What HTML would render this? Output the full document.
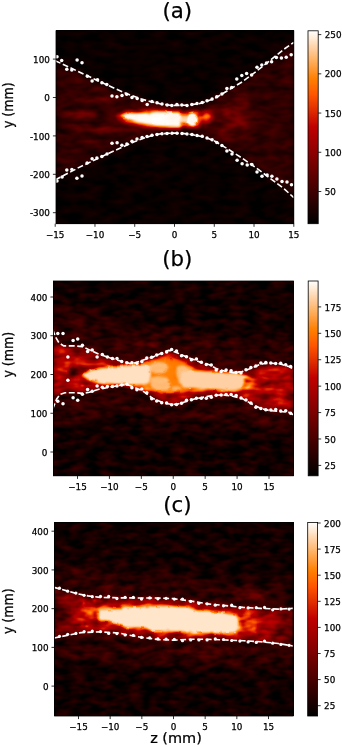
<!DOCTYPE html>
<html lang="en"><head><meta charset="utf-8"><title>Figure</title>
<style>html,body{margin:0;padding:0;background:#fff}svg{display:block}text{font-family:"DejaVu Sans", "Liberation Sans", sans-serif;fill:#000;stroke:#000;stroke-width:0.25px}</style>
</head><body>
<svg width="342" height="747" viewBox="0 0 342 747">
<defs>
<radialGradient id="g" cx="0.5" cy="0.5" r="0.5"><stop offset="0.000" stop-color="#fff" stop-opacity="1.000"/><stop offset="0.083" stop-color="#fff" stop-opacity="0.979"/><stop offset="0.167" stop-color="#fff" stop-opacity="0.920"/><stop offset="0.250" stop-color="#fff" stop-opacity="0.828"/><stop offset="0.333" stop-color="#fff" stop-opacity="0.713"/><stop offset="0.417" stop-color="#fff" stop-opacity="0.587"/><stop offset="0.500" stop-color="#fff" stop-opacity="0.461"/><stop offset="0.583" stop-color="#fff" stop-opacity="0.343"/><stop offset="0.667" stop-color="#fff" stop-opacity="0.239"/><stop offset="0.750" stop-color="#fff" stop-opacity="0.153"/><stop offset="0.833" stop-color="#fff" stop-opacity="0.086"/><stop offset="0.917" stop-color="#fff" stop-opacity="0.036"/><stop offset="1.000" stop-color="#fff" stop-opacity="0.000"/></radialGradient>
<radialGradient id="f" cx="0.5" cy="0.5" r="0.5"><stop offset="0" stop-color="#fff" stop-opacity="1"/><stop offset="0.550" stop-color="#fff" stop-opacity="1"/><stop offset="0.606" stop-color="#fff" stop-opacity="0.962"/><stop offset="0.663" stop-color="#fff" stop-opacity="0.854"/><stop offset="0.719" stop-color="#fff" stop-opacity="0.691"/><stop offset="0.775" stop-color="#fff" stop-opacity="0.500"/><stop offset="0.831" stop-color="#fff" stop-opacity="0.309"/><stop offset="0.887" stop-color="#fff" stop-opacity="0.146"/><stop offset="0.944" stop-color="#fff" stop-opacity="0.038"/><stop offset="1.000" stop-color="#fff" stop-opacity="0.000"/></radialGradient>
<radialGradient id="k" cx="0.5" cy="0.5" r="0.5"><stop offset="0" stop-color="#000" stop-opacity="1"/><stop offset="0.4" stop-color="#000" stop-opacity="0.7"/><stop offset="1" stop-color="#000" stop-opacity="0"/></radialGradient>
<linearGradient id="cbg" x1="0" y1="1" x2="0" y2="0"><stop offset="0" stop-color="#000"/><stop offset="1" stop-color="#fff"/></linearGradient>
<filter id="hota" filterUnits="userSpaceOnUse" x="56.00" y="30.80" width="237.80" height="192.90" color-interpolation-filters="sRGB">
<feComponentTransfer><feFuncR type="table" tableValues="0.0000 0.0625 0.1250 0.1875 0.2500 0.3125 0.3750 0.4375 0.5000 0.5625 0.6250 0.6875 0.7500 0.8125 0.8750 0.9375 1.0000 1.0000 1.0000 1.0000 1.0000 1.0000 1.0000 1.0000 1.0000"/><feFuncG type="table" tableValues="0.0000 0.0000 0.0000 0.0000 0.0000 0.0000 0.0000 0.0000 0.0000 0.0000 0.0000 0.0000 0.0000 0.0833 0.1667 0.2500 0.3333 0.4167 0.5000 0.5833 0.6667 0.7500 0.8333 0.9167 1.0000"/><feFuncB type="table" tableValues="0.0000 0.0000 0.0000 0.0000 0.0000 0.0000 0.0000 0.0000 0.0000 0.0000 0.0000 0.0000 0.0000 0.0000 0.0000 0.0000 0.0000 0.0000 0.0000 0.1667 0.3333 0.5000 0.6667 0.8333 1.0000"/></feComponentTransfer></filter>
<filter id="nza" filterUnits="userSpaceOnUse" x="56.00" y="30.80" width="237.80" height="192.90" color-interpolation-filters="sRGB">
<feTurbulence type="fractalNoise" baseFrequency="0.06 0.14" numOctaves="2" seed="2" result="t"/>
<feColorMatrix in="t" type="matrix" values="1 0 0 0 0 1 0 0 0 0 1 0 0 0 0 0 0 0 0 1" result="n"/>
<feComposite in="SourceGraphic" in2="n" operator="arithmetic" k1="0.900" k2="0.550" k3="0.100" k4="-0.050"/></filter>
<filter id="raga" filterUnits="userSpaceOnUse" x="56.00" y="30.80" width="237.80" height="192.90" color-interpolation-filters="sRGB">
<feTurbulence type="fractalNoise" baseFrequency="0.16 0.2" numOctaves="1" seed="7" result="t"/>
<feDisplacementMap in="SourceGraphic" in2="t" scale="3" xChannelSelector="R" yChannelSelector="G"/></filter>
<filter id="hotca" filterUnits="userSpaceOnUse" x="308.00" y="30.80" width="10.20" height="192.90" color-interpolation-filters="sRGB">
<feComponentTransfer><feFuncR type="table" tableValues="0.0000 0.0625 0.1250 0.1875 0.2500 0.3125 0.3750 0.4375 0.5000 0.5625 0.6250 0.6875 0.7500 0.8125 0.8750 0.9375 1.0000 1.0000 1.0000 1.0000 1.0000 1.0000 1.0000 1.0000 1.0000"/><feFuncG type="table" tableValues="0.0000 0.0000 0.0000 0.0000 0.0000 0.0000 0.0000 0.0000 0.0000 0.0000 0.0000 0.0000 0.0000 0.0833 0.1667 0.2500 0.3333 0.4167 0.5000 0.5833 0.6667 0.7500 0.8333 0.9167 1.0000"/><feFuncB type="table" tableValues="0.0000 0.0000 0.0000 0.0000 0.0000 0.0000 0.0000 0.0000 0.0000 0.0000 0.0000 0.0000 0.0000 0.0000 0.0000 0.0000 0.0000 0.0000 0.0000 0.1667 0.3333 0.5000 0.6667 0.8333 1.0000"/></feComponentTransfer></filter>
<filter id="hotb" filterUnits="userSpaceOnUse" x="53.50" y="281.00" width="240.00" height="194.80" color-interpolation-filters="sRGB">
<feComponentTransfer><feFuncR type="table" tableValues="0.0000 0.0625 0.1250 0.1875 0.2500 0.3125 0.3750 0.4375 0.5000 0.5625 0.6250 0.6875 0.7500 0.8125 0.8750 0.9375 1.0000 1.0000 1.0000 1.0000 1.0000 1.0000 1.0000 1.0000 1.0000"/><feFuncG type="table" tableValues="0.0000 0.0000 0.0000 0.0000 0.0000 0.0000 0.0000 0.0000 0.0000 0.0000 0.0000 0.0000 0.0000 0.0833 0.1667 0.2500 0.3333 0.4167 0.5000 0.5833 0.6667 0.7500 0.8333 0.9167 1.0000"/><feFuncB type="table" tableValues="0.0000 0.0000 0.0000 0.0000 0.0000 0.0000 0.0000 0.0000 0.0000 0.0000 0.0000 0.0000 0.0000 0.0000 0.0000 0.0000 0.0000 0.0000 0.0000 0.1667 0.3333 0.5000 0.6667 0.8333 1.0000"/></feComponentTransfer></filter>
<filter id="nzb" filterUnits="userSpaceOnUse" x="53.50" y="281.00" width="240.00" height="194.80" color-interpolation-filters="sRGB">
<feTurbulence type="fractalNoise" baseFrequency="0.07 0.15" numOctaves="2" seed="5" result="t"/>
<feColorMatrix in="t" type="matrix" values="1 0 0 0 0 1 0 0 0 0 1 0 0 0 0 0 0 0 0 1" result="n"/>
<feComposite in="SourceGraphic" in2="n" operator="arithmetic" k1="0.800" k2="0.600" k3="0.220" k4="-0.115"/></filter>
<filter id="ragb" filterUnits="userSpaceOnUse" x="53.50" y="281.00" width="240.00" height="194.80" color-interpolation-filters="sRGB">
<feTurbulence type="fractalNoise" baseFrequency="0.16 0.2" numOctaves="1" seed="7" result="t"/>
<feDisplacementMap in="SourceGraphic" in2="t" scale="3" xChannelSelector="R" yChannelSelector="G"/></filter>
<filter id="hotcb" filterUnits="userSpaceOnUse" x="308.20" y="281.00" width="9.90" height="194.80" color-interpolation-filters="sRGB">
<feComponentTransfer><feFuncR type="table" tableValues="0.0000 0.0625 0.1250 0.1875 0.2500 0.3125 0.3750 0.4375 0.5000 0.5625 0.6250 0.6875 0.7500 0.8125 0.8750 0.9375 1.0000 1.0000 1.0000 1.0000 1.0000 1.0000 1.0000 1.0000 1.0000"/><feFuncG type="table" tableValues="0.0000 0.0000 0.0000 0.0000 0.0000 0.0000 0.0000 0.0000 0.0000 0.0000 0.0000 0.0000 0.0000 0.0833 0.1667 0.2500 0.3333 0.4167 0.5000 0.5833 0.6667 0.7500 0.8333 0.9167 1.0000"/><feFuncB type="table" tableValues="0.0000 0.0000 0.0000 0.0000 0.0000 0.0000 0.0000 0.0000 0.0000 0.0000 0.0000 0.0000 0.0000 0.0000 0.0000 0.0000 0.0000 0.0000 0.0000 0.1667 0.3333 0.5000 0.6667 0.8333 1.0000"/></feComponentTransfer></filter>
<filter id="hotc" filterUnits="userSpaceOnUse" x="54.60" y="522.50" width="238.50" height="193.50" color-interpolation-filters="sRGB">
<feComponentTransfer><feFuncR type="table" tableValues="0.0000 0.0625 0.1250 0.1875 0.2500 0.3125 0.3750 0.4375 0.5000 0.5625 0.6250 0.6875 0.7500 0.8125 0.8750 0.9375 1.0000 1.0000 1.0000 1.0000 1.0000 1.0000 1.0000 1.0000 1.0000"/><feFuncG type="table" tableValues="0.0000 0.0000 0.0000 0.0000 0.0000 0.0000 0.0000 0.0000 0.0000 0.0000 0.0000 0.0000 0.0000 0.0833 0.1667 0.2500 0.3333 0.4167 0.5000 0.5833 0.6667 0.7500 0.8333 0.9167 1.0000"/><feFuncB type="table" tableValues="0.0000 0.0000 0.0000 0.0000 0.0000 0.0000 0.0000 0.0000 0.0000 0.0000 0.0000 0.0000 0.0000 0.0000 0.0000 0.0000 0.0000 0.0000 0.0000 0.1667 0.3333 0.5000 0.6667 0.8333 1.0000"/></feComponentTransfer></filter>
<filter id="nzc" filterUnits="userSpaceOnUse" x="54.60" y="522.50" width="238.50" height="193.50" color-interpolation-filters="sRGB">
<feTurbulence type="fractalNoise" baseFrequency="0.07 0.15" numOctaves="2" seed="9" result="t"/>
<feColorMatrix in="t" type="matrix" values="1 0 0 0 0 1 0 0 0 0 1 0 0 0 0 0 0 0 0 1" result="n"/>
<feComposite in="SourceGraphic" in2="n" operator="arithmetic" k1="0.800" k2="0.600" k3="0.220" k4="-0.115"/></filter>
<filter id="ragc" filterUnits="userSpaceOnUse" x="54.60" y="522.50" width="238.50" height="193.50" color-interpolation-filters="sRGB">
<feTurbulence type="fractalNoise" baseFrequency="0.16 0.2" numOctaves="1" seed="7" result="t"/>
<feDisplacementMap in="SourceGraphic" in2="t" scale="3" xChannelSelector="R" yChannelSelector="G"/></filter>
<filter id="hotcc" filterUnits="userSpaceOnUse" x="307.70" y="522.50" width="9.90" height="193.50" color-interpolation-filters="sRGB">
<feComponentTransfer><feFuncR type="table" tableValues="0.0000 0.0625 0.1250 0.1875 0.2500 0.3125 0.3750 0.4375 0.5000 0.5625 0.6250 0.6875 0.7500 0.8125 0.8750 0.9375 1.0000 1.0000 1.0000 1.0000 1.0000 1.0000 1.0000 1.0000 1.0000"/><feFuncG type="table" tableValues="0.0000 0.0000 0.0000 0.0000 0.0000 0.0000 0.0000 0.0000 0.0000 0.0000 0.0000 0.0000 0.0000 0.0833 0.1667 0.2500 0.3333 0.4167 0.5000 0.5833 0.6667 0.7500 0.8333 0.9167 1.0000"/><feFuncB type="table" tableValues="0.0000 0.0000 0.0000 0.0000 0.0000 0.0000 0.0000 0.0000 0.0000 0.0000 0.0000 0.0000 0.0000 0.0000 0.0000 0.0000 0.0000 0.0000 0.0000 0.1667 0.3333 0.5000 0.6667 0.8333 1.0000"/></feComponentTransfer></filter>
<filter id="bl0_8" x="-30%" y="-30%" width="160%" height="160%" color-interpolation-filters="sRGB"><feGaussianBlur stdDeviation="0.8"/></filter><filter id="bl0_9" x="-30%" y="-30%" width="160%" height="160%" color-interpolation-filters="sRGB"><feGaussianBlur stdDeviation="0.9"/></filter><filter id="bl1_0" x="-30%" y="-30%" width="160%" height="160%" color-interpolation-filters="sRGB"><feGaussianBlur stdDeviation="1.0"/></filter><filter id="bl1_1" x="-30%" y="-30%" width="160%" height="160%" color-interpolation-filters="sRGB"><feGaussianBlur stdDeviation="1.1"/></filter><filter id="bl1_2" x="-30%" y="-30%" width="160%" height="160%" color-interpolation-filters="sRGB"><feGaussianBlur stdDeviation="1.2"/></filter><filter id="bl1_5" x="-30%" y="-30%" width="160%" height="160%" color-interpolation-filters="sRGB"><feGaussianBlur stdDeviation="1.5"/></filter><filter id="bl1_8" x="-30%" y="-30%" width="160%" height="160%" color-interpolation-filters="sRGB"><feGaussianBlur stdDeviation="1.8"/></filter><filter id="bl2_0" x="-30%" y="-30%" width="160%" height="160%" color-interpolation-filters="sRGB"><feGaussianBlur stdDeviation="2.0"/></filter><filter id="bl2_5" x="-30%" y="-30%" width="160%" height="160%" color-interpolation-filters="sRGB"><feGaussianBlur stdDeviation="2.5"/></filter><filter id="bl3" x="-30%" y="-30%" width="160%" height="160%" color-interpolation-filters="sRGB"><feGaussianBlur stdDeviation="3"/></filter><filter id="bl3_5" x="-30%" y="-30%" width="160%" height="160%" color-interpolation-filters="sRGB"><feGaussianBlur stdDeviation="3.5"/></filter><filter id="bl6" x="-30%" y="-30%" width="160%" height="160%" color-interpolation-filters="sRGB"><feGaussianBlur stdDeviation="6"/></filter>
</defs>
<rect width="342" height="747" fill="#fff"/>
<g filter="url(#hota)">
<g filter="url(#nza)">
<rect x="51.00" y="25.80" width="247.80" height="202.90" fill="#000"/>
<rect x="51.00" y="25.80" width="247.80" height="202.90" fill="#fff" fill-opacity="0.025"/>
<path d="M55.1 60.6 L70.0 67.6 L85.0 74.7 L100.0 81.7 L115.0 88.6 L128.4 94.3 L140.0 98.6 L150.0 101.5 L160.0 103.8 L170.0 105.2 L176.0 105.5 L185.0 105.2 L193.0 104.4 L200.0 103.5 L214.0 98.8 L228.0 90.4 L242.1 81.9 L256.1 71.5 L270.2 60.3 L284.2 49.1 L293.8 42.3 L293.8 197.6 L284.2 188.9 L270.2 178.3 L256.1 167.9 L242.1 158.1 L228.1 149.1 L214.0 140.7 L204.0 137.0 L196.1 135.3 L189.0 134.1 L182.1 133.4 L175.0 133.1 L168.1 133.3 L161.0 133.8 L154.0 134.9 L145.4 137.6 L134.2 141.8 L106.1 154.5 L78.1 167.9 L55.1 180.0Z" fill="#fff" fill-opacity="0.100" filter="url(#bl3)"/>
<ellipse cx="77.0" cy="115.5" rx="24.0" ry="6.5" fill="url(#g)" fill-opacity="0.280"/>
<ellipse cx="100.0" cy="116.0" rx="46.0" ry="9.0" fill="url(#g)" fill-opacity="0.050"/>
<ellipse cx="100.0" cy="100.5" rx="44.0" ry="5.5" fill="url(#g)" fill-opacity="0.140"/>
<ellipse cx="100.0" cy="129.0" rx="44.0" ry="5.5" fill="url(#g)" fill-opacity="0.140"/>
<ellipse cx="88.0" cy="141.0" rx="28.0" ry="5.0" fill="url(#g)" fill-opacity="0.070"/>
<ellipse cx="88.0" cy="89.0" rx="24.0" ry="5.0" fill="url(#g)" fill-opacity="0.060"/>
<ellipse cx="101.0" cy="116.0" rx="7.0" ry="7.0" fill="url(#k)" fill-opacity="0.500"/>
<ellipse cx="85.0" cy="108.0" rx="30.0" ry="2.5" fill="url(#k)" fill-opacity="0.350"/>
<ellipse cx="85.0" cy="122.5" rx="30.0" ry="2.5" fill="url(#k)" fill-opacity="0.350"/>
<ellipse cx="156.0" cy="118.5" rx="56.0" ry="20.0" fill="url(#g)" fill-opacity="0.260"/>
<ellipse cx="150.0" cy="118.5" rx="42.0" ry="13.0" fill="url(#g)" fill-opacity="0.300"/>
<ellipse cx="232.0" cy="118.0" rx="36.0" ry="32.0" fill="url(#g)" fill-opacity="0.160"/>
<ellipse cx="227.0" cy="112.0" rx="7.0" ry="6.0" fill="url(#g)" fill-opacity="0.120"/>
<ellipse cx="246.0" cy="102.0" rx="7.0" ry="6.0" fill="url(#g)" fill-opacity="0.080"/>
<ellipse cx="245.0" cy="125.0" rx="8.0" ry="7.0" fill="url(#g)" fill-opacity="0.080"/>
<ellipse cx="222.0" cy="131.0" rx="8.0" ry="6.0" fill="url(#g)" fill-opacity="0.080"/>
<ellipse cx="207.5" cy="116.0" rx="9.5" ry="8.5" fill="url(#g)" fill-opacity="0.580"/>
<ellipse cx="204.0" cy="119.0" rx="11.0" ry="11.0" fill="url(#g)" fill-opacity="0.300"/>
<path d="M116.0 116.0 L124.0 111.2 L147.0 110.6 L152.0 109.6 L179.0 109.4 L183.0 112.5 L187.0 111.0 L197.0 111.0 L200.5 113.5 L202.0 119.0 L199.5 127.0 L196.0 128.8 L188.0 128.8 L184.0 125.5 L180.0 128.8 L161.0 128.8 L143.0 126.3 L128.0 122.8 L119.0 119.8Z" fill="#fff" fill-opacity="0.500" filter="url(#bl1_8)"/>
</g>
<g filter="url(#raga)">
<path d="M121.0 115.7 L126.0 113.4 L147.0 113.0 L149.0 114.2 L151.0 112.2 L178.0 111.9 L180.3 113.0 L180.8 119.0 L180.3 126.2 L162.0 126.3 L144.0 123.7 L130.0 120.0 L123.0 118.0Z" fill="#fff" fill-opacity="0.970" filter="url(#bl0_8)"/>
<path d="M179.0 115.3 L188.0 115.3 L188.0 122.8 L179.0 122.8Z" fill="#fff" fill-opacity="0.780" filter="url(#bl1_0)"/>
<ellipse cx="192.3" cy="119.6" rx="7.2" ry="8.2" fill="url(#f)" fill-opacity="0.970"/>
</g></g>
<svg x="56.00" y="30.80" width="237.80" height="192.90" viewBox="56.00 30.80 237.80 192.90">
<path d="M55.1 60.6 L70.0 67.6 L85.0 74.7 L100.0 81.7 L115.0 88.6 L128.4 94.3 L140.0 98.6 L150.0 101.5 L160.0 103.8 L170.0 105.2 L176.0 105.5 L185.0 105.2 L193.0 104.4 L200.0 103.5 L214.0 98.8 L228.0 90.4 L242.1 81.9 L256.1 71.5 L270.2 60.3 L284.2 49.1 L293.8 42.3" fill="none" stroke="#fff" stroke-width="1.6" stroke-dasharray="5.9 2.6"/>
<path d="M55.1 180.0 L78.1 167.9 L106.1 154.5 L134.2 141.8 L145.4 137.6 L154.0 134.9 L161.0 133.8 L168.1 133.3 L175.0 133.1 L182.1 133.4 L189.0 134.1 L196.1 135.3 L204.0 137.0 L214.0 140.7 L228.1 149.1 L242.1 158.1 L256.1 167.9 L270.2 178.3 L284.2 188.9 L293.8 197.6" fill="none" stroke="#fff" stroke-width="1.6" stroke-dasharray="5.9 2.6"/>
<g fill="#fff">
<circle cx="57.0" cy="56.8" r="1.75"/>
<circle cx="61.7" cy="60.6" r="1.75"/>
<circle cx="66.8" cy="69.2" r="1.75"/>
<circle cx="71.8" cy="69.9" r="1.75"/>
<circle cx="77.1" cy="60.1" r="1.75"/>
<circle cx="82.0" cy="62.7" r="1.75"/>
<circle cx="87.4" cy="76.3" r="1.75"/>
<circle cx="92.1" cy="80.9" r="1.75"/>
<circle cx="97.5" cy="79.8" r="1.75"/>
<circle cx="101.9" cy="82.8" r="1.75"/>
<circle cx="106.8" cy="84.4" r="1.75"/>
<circle cx="112.0" cy="96.1" r="1.75"/>
<circle cx="116.9" cy="96.8" r="1.75"/>
<circle cx="122.0" cy="95.4" r="1.75"/>
<circle cx="126.7" cy="94.3" r="1.75"/>
<circle cx="132.0" cy="97.6" r="1.75"/>
<circle cx="137.2" cy="98.5" r="1.75"/>
<circle cx="142.1" cy="100.4" r="1.75"/>
<circle cx="147.2" cy="104.6" r="1.75"/>
<circle cx="151.9" cy="101.6" r="1.75"/>
<circle cx="157.0" cy="102.7" r="1.75"/>
<circle cx="162.0" cy="103.9" r="1.75"/>
<circle cx="167.1" cy="105.1" r="1.75"/>
<circle cx="171.8" cy="105.6" r="1.75"/>
<circle cx="176.9" cy="104.6" r="1.75"/>
<circle cx="181.8" cy="105.1" r="1.75"/>
<circle cx="187.0" cy="105.6" r="1.75"/>
<circle cx="191.9" cy="104.6" r="1.75"/>
<circle cx="197.0" cy="103.4" r="1.75"/>
<circle cx="202.2" cy="102.4" r="1.75"/>
<circle cx="207.0" cy="100.7" r="1.75"/>
<circle cx="212.1" cy="99.1" r="1.75"/>
<circle cx="216.8" cy="96.8" r="1.75"/>
<circle cx="221.9" cy="94.0" r="1.75"/>
<circle cx="226.9" cy="88.4" r="1.75"/>
<circle cx="231.7" cy="87.5" r="1.75"/>
<circle cx="236.8" cy="79.1" r="1.75"/>
<circle cx="241.8" cy="75.5" r="1.75"/>
<circle cx="246.6" cy="73.5" r="1.75"/>
<circle cx="251.6" cy="74.9" r="1.75"/>
<circle cx="257.0" cy="67.3" r="1.75"/>
<circle cx="261.8" cy="65.1" r="1.75"/>
<circle cx="266.5" cy="63.1" r="1.75"/>
<circle cx="271.6" cy="61.7" r="1.75"/>
<circle cx="276.4" cy="57.5" r="1.75"/>
<circle cx="281.4" cy="58.1" r="1.75"/>
<circle cx="286.2" cy="57.2" r="1.75"/>
<circle cx="291.2" cy="54.7" r="1.75"/>
<circle cx="57.0" cy="181.1" r="1.75"/>
<circle cx="62.1" cy="176.9" r="1.75"/>
<circle cx="66.8" cy="169.9" r="1.75"/>
<circle cx="71.9" cy="169.4" r="1.75"/>
<circle cx="76.9" cy="178.3" r="1.75"/>
<circle cx="82.0" cy="176.1" r="1.75"/>
<circle cx="87.1" cy="162.9" r="1.75"/>
<circle cx="92.1" cy="158.7" r="1.75"/>
<circle cx="96.9" cy="158.1" r="1.75"/>
<circle cx="101.9" cy="156.4" r="1.75"/>
<circle cx="107.0" cy="153.9" r="1.75"/>
<circle cx="112.0" cy="143.2" r="1.75"/>
<circle cx="117.1" cy="142.7" r="1.75"/>
<circle cx="121.9" cy="145.2" r="1.75"/>
<circle cx="126.9" cy="144.1" r="1.75"/>
<circle cx="132.0" cy="141.3" r="1.75"/>
<circle cx="137.0" cy="139.0" r="1.75"/>
<circle cx="142.1" cy="137.6" r="1.75"/>
<circle cx="147.0" cy="136.4" r="1.75"/>
<circle cx="152.0" cy="135.3" r="1.75"/>
<circle cx="157.0" cy="134.4" r="1.75"/>
<circle cx="162.0" cy="133.8" r="1.75"/>
<circle cx="167.0" cy="133.4" r="1.75"/>
<circle cx="172.0" cy="133.2" r="1.75"/>
<circle cx="177.0" cy="133.2" r="1.75"/>
<circle cx="182.0" cy="133.4" r="1.75"/>
<circle cx="187.0" cy="133.9" r="1.75"/>
<circle cx="192.0" cy="134.6" r="1.75"/>
<circle cx="197.0" cy="135.5" r="1.75"/>
<circle cx="202.2" cy="136.2" r="1.75"/>
<circle cx="207.0" cy="137.9" r="1.75"/>
<circle cx="212.1" cy="139.8" r="1.75"/>
<circle cx="216.8" cy="142.6" r="1.75"/>
<circle cx="221.9" cy="145.4" r="1.75"/>
<circle cx="226.9" cy="151.1" r="1.75"/>
<circle cx="232.0" cy="153.9" r="1.75"/>
<circle cx="237.1" cy="160.3" r="1.75"/>
<circle cx="242.1" cy="163.7" r="1.75"/>
<circle cx="247.2" cy="165.1" r="1.75"/>
<circle cx="251.9" cy="164.5" r="1.75"/>
<circle cx="257.0" cy="172.1" r="1.75"/>
<circle cx="262.0" cy="176.3" r="1.75"/>
<circle cx="267.1" cy="174.9" r="1.75"/>
<circle cx="271.9" cy="176.3" r="1.75"/>
<circle cx="276.9" cy="179.1" r="1.75"/>
<circle cx="282.0" cy="181.4" r="1.75"/>
<circle cx="287.0" cy="181.9" r="1.75"/>
<circle cx="291.5" cy="184.7" r="1.75"/>
</g></svg>
<rect x="56.00" y="30.80" width="237.80" height="192.90" fill="none" stroke="#000" stroke-width="0.8"/>
<g stroke="#000" stroke-width="0.8">
<line x1="55.20" y1="223.70" x2="55.20" y2="226.80"/>
<line x1="94.97" y1="223.70" x2="94.97" y2="226.80"/>
<line x1="134.73" y1="223.70" x2="134.73" y2="226.80"/>
<line x1="174.50" y1="223.70" x2="174.50" y2="226.80"/>
<line x1="214.27" y1="223.70" x2="214.27" y2="226.80"/>
<line x1="254.03" y1="223.70" x2="254.03" y2="226.80"/>
<line x1="293.80" y1="223.70" x2="293.80" y2="226.80"/>
<line x1="52.90" y1="59.10" x2="56.00" y2="59.10"/>
<line x1="52.90" y1="97.50" x2="56.00" y2="97.50"/>
<line x1="52.90" y1="135.90" x2="56.00" y2="135.90"/>
<line x1="52.90" y1="174.30" x2="56.00" y2="174.30"/>
<line x1="52.90" y1="212.70" x2="56.00" y2="212.70"/>
</g>
<g font-size="8.80">
<text x="55.20" y="237.70" text-anchor="middle">−15</text>
<text x="94.97" y="237.70" text-anchor="middle">−10</text>
<text x="134.73" y="237.70" text-anchor="middle">−5</text>
<text x="174.50" y="237.70" text-anchor="middle">0</text>
<text x="214.27" y="237.70" text-anchor="middle">5</text>
<text x="254.03" y="237.70" text-anchor="middle">10</text>
<text x="293.80" y="237.70" text-anchor="middle">15</text>
<text x="49.90" y="62.80" text-anchor="end">100</text>
<text x="49.90" y="101.20" text-anchor="end">0</text>
<text x="49.90" y="139.60" text-anchor="end">-100</text>
<text x="49.90" y="178.00" text-anchor="end">-200</text>
<text x="49.90" y="216.40" text-anchor="end">-300</text>
</g>
<g filter="url(#hotca)"><rect x="308.00" y="30.80" width="10.20" height="192.90" fill="url(#cbg)"/></g>
<rect x="308.00" y="30.80" width="10.20" height="192.90" fill="none" stroke="#000" stroke-width="0.8"/>
<g stroke="#000" stroke-width="0.8">
<line x1="318.20" y1="34.60" x2="321.30" y2="34.60"/>
<line x1="318.20" y1="73.83" x2="321.30" y2="73.83"/>
<line x1="318.20" y1="113.05" x2="321.30" y2="113.05"/>
<line x1="318.20" y1="152.28" x2="321.30" y2="152.28"/>
<line x1="318.20" y1="191.50" x2="321.30" y2="191.50"/>
</g>
<g font-size="8.80">
<text x="324.70" y="38.20">250</text>
<text x="324.70" y="77.42">200</text>
<text x="324.70" y="116.65">150</text>
<text x="324.70" y="155.88">100</text>
<text x="324.70" y="195.10">50</text>
</g>
<text transform="translate(177.30 18.00) scale(1 1)" font-size="21.30" text-anchor="middle">(a)</text>
<text transform="translate(12.90 105.20) rotate(-90) scale(1 1.06)" font-size="12.60" text-anchor="middle">y (mm)</text>
<g filter="url(#hotb)">
<g filter="url(#nzb)">
<rect x="48.50" y="276.00" width="250.00" height="204.80" fill="#000"/>
<rect x="48.50" y="276.00" width="250.00" height="204.80" fill="#fff" fill-opacity="0.050"/>
<path d="M52.7 300.0 L120.0 322.0 L175.0 330.0 L240.0 340.0 L293.8 335.0 L293.8 440.0 L240.0 425.0 L175.0 428.0 L120.0 412.0 L52.7 432.0Z" fill="#fff" fill-opacity="0.070" filter="url(#bl6)"/>
<path d="M52.7 329.5 L55.5 337.0 L59.0 342.9 L63.7 345.9 L75.4 345.9 L82.4 346.6 L89.4 349.9 L98.8 354.1 L110.5 358.1 L122.2 361.6 L132.0 363.9 L142.5 360.3 L153.0 356.9 L163.0 352.5 L168.5 350.4 L172.0 350.8 L177.6 353.0 L188.1 357.6 L200.0 362.1 L209.5 364.8 L216.2 368.6 L225.0 371.3 L232.7 372.6 L242.1 371.6 L251.4 368.2 L258.0 365.2 L264.0 363.6 L270.1 363.2 L279.5 363.8 L288.9 366.6 L293.8 369.0 L293.8 415.0 L288.9 412.3 L279.5 411.4 L270.1 410.7 L260.8 408.4 L251.4 403.7 L242.1 398.5 L232.7 396.2 L223.4 395.0 L214.0 395.2 L205.7 396.8 L195.2 398.8 L184.6 402.0 L178.0 404.0 L172.0 404.5 L163.6 403.0 L153.0 398.6 L142.5 390.8 L130.0 385.4 L127.0 384.8 L122.2 384.9 L110.5 387.0 L98.8 389.3 L89.4 392.3 L82.4 393.4 L75.4 392.7 L64.9 392.7 L60.2 394.3 L56.7 399.0 L54.3 404.9 L52.7 409.0Z" fill="#fff" fill-opacity="0.260" filter="url(#bl2_0)"/>
<path d="M53.0 352.0 L75.0 352.0 L90.0 357.0 L110.0 361.0 L130.0 362.0 L150.0 357.0 L170.0 355.0 L188.0 360.0 L202.0 367.0 L232.0 374.0 L250.0 371.0 L270.0 366.0 L293.8 369.0 L293.8 409.0 L270.0 406.0 L250.0 399.0 L232.0 394.0 L205.0 394.0 L188.0 397.0 L172.0 399.5 L155.0 393.0 L132.0 386.0 L110.0 387.0 L90.0 389.0 L75.0 389.0 L53.0 389.0Z" fill="#fff" fill-opacity="0.160" filter="url(#bl2_5)"/>
<ellipse cx="62.0" cy="352.0" rx="12.0" ry="8.0" fill="url(#g)" fill-opacity="0.150"/>
<ellipse cx="61.0" cy="391.0" rx="12.0" ry="8.0" fill="url(#g)" fill-opacity="0.150"/>
<ellipse cx="251.0" cy="382.0" rx="12.0" ry="10.0" fill="url(#g)" fill-opacity="0.350"/>
<ellipse cx="152.0" cy="345.0" rx="24.0" ry="5.0" fill="url(#g)" fill-opacity="0.140"/>
<path d="M81.0 375.0 L89.5 369.3 L100.0 366.8 L130.0 363.7 L150.0 362.0 L170.0 360.5 L186.0 365.0 L200.0 368.6 L235.0 372.0 L247.0 375.0 L254.0 381.5 L247.0 390.0 L235.0 392.0 L200.0 390.3 L186.0 391.2 L170.0 393.0 L150.0 390.4 L130.0 387.0 L100.0 384.3 L89.5 381.8Z" fill="#fff" fill-opacity="0.420" filter="url(#bl1_1)"/>
</g>
<g filter="url(#ragb)">
<path d="M143.0 363.5 L152.0 359.8 L165.0 357.8 L176.0 358.3 L186.0 362.5 L191.0 368.0 L191.0 389.0 L184.0 392.0 L172.0 393.0 L158.0 392.0 L148.0 389.0 L143.0 386.0Z" fill="#c2c2c2" fill-opacity="0.900" filter="url(#bl1_5)"/>
<path d="M150.0 364.5 L158.0 361.8 L166.0 362.8 L168.5 368.0 L163.0 373.0 L154.0 373.5 L149.5 370.0Z" fill="#ededed" fill-opacity="0.650" filter="url(#bl1_2)"/>
<path d="M150.0 377.5 L157.0 376.0 L167.0 377.5 L170.5 384.0 L168.0 390.0 L158.0 390.5 L151.0 387.0Z" fill="#ededed" fill-opacity="0.650" filter="url(#bl1_2)"/>
<path d="M176.5 366.5 L183.0 365.0 L189.0 368.5 L190.0 380.0 L186.0 384.5 L179.5 383.5 L176.5 376.0Z" fill="#ededed" fill-opacity="0.650" filter="url(#bl1_2)"/>
<path d="M172.0 386.5 L178.0 386.0 L182.0 389.0 L176.0 391.3 L172.0 390.0Z" fill="#ebebeb" fill-opacity="0.500" filter="url(#bl1_0)"/>
<path d="M83.0 375.0 L90.0 370.8 L100.0 368.5 L115.0 366.8 L130.0 365.2 L144.0 364.6 L150.0 366.0 L151.0 375.0 L149.0 383.0 L144.0 384.5 L130.0 384.8 L115.0 384.0 L100.0 382.5 L90.0 380.0Z" fill="#f0f0f0" fill-opacity="1.000" filter="url(#bl0_9)"/>
<path d="M181.0 372.0 L190.0 370.5 L215.0 371.8 L235.0 373.5 L243.0 376.5 L245.0 382.0 L242.0 388.0 L235.0 390.5 L215.0 389.5 L195.0 388.2 L183.0 387.5 L180.0 380.0Z" fill="#e8e8e8" fill-opacity="1.000" filter="url(#bl0_9)"/>
<ellipse cx="73.0" cy="372.5" rx="6.5" ry="6.5" fill="url(#k)" fill-opacity="0.800"/>
<ellipse cx="82.4" cy="385.5" rx="4.0" ry="3.0" fill="url(#g)" fill-opacity="0.300"/>
</g></g>
<svg x="53.50" y="281.00" width="240.00" height="194.80" viewBox="53.50 281.00 240.00 194.80">
<path d="M52.7 329.5 L55.5 337.0 L59.0 342.9 L63.7 345.9 L75.4 345.9 L82.4 346.6 L89.4 349.9 L98.8 354.1 L110.5 358.1 L122.2 361.6 L132.0 363.9 L142.5 360.3 L153.0 356.9 L163.0 352.5 L168.5 350.4 L172.0 350.8 L177.6 353.0 L188.1 357.6 L200.0 362.1 L209.5 364.8 L216.2 368.6 L225.0 371.3 L232.7 372.6 L242.1 371.6 L251.4 368.2 L258.0 365.2 L264.0 363.6 L270.1 363.2 L279.5 363.8 L288.9 366.6 L293.8 369.0" fill="none" stroke="#fff" stroke-width="1.6" stroke-dasharray="5.9 2.6"/>
<path d="M52.7 409.0 L54.3 404.9 L56.7 399.0 L60.2 394.3 L64.9 392.7 L75.4 392.7 L82.4 393.4 L89.4 392.3 L98.8 389.3 L110.5 387.0 L122.2 384.9 L127.0 384.8 L130.0 385.4 L142.5 390.8 L153.0 398.6 L163.6 403.0 L172.0 404.5 L178.0 404.0 L184.6 402.0 L195.2 398.8 L205.7 396.8 L214.0 395.2 L223.4 395.0 L232.7 396.2 L242.1 398.5 L251.4 403.7 L260.8 408.4 L270.1 410.7 L279.5 411.4 L288.9 412.3 L293.8 415.0" fill="none" stroke="#fff" stroke-width="1.6" stroke-dasharray="5.9 2.6"/>
<g fill="#fff">
<circle cx="57.8" cy="333.5" r="1.75"/>
<circle cx="63.0" cy="333.5" r="1.75"/>
<circle cx="67.9" cy="356.9" r="1.75"/>
<circle cx="73.1" cy="340.5" r="1.75"/>
<circle cx="77.7" cy="338.9" r="1.75"/>
<circle cx="82.4" cy="345.2" r="1.75"/>
<circle cx="87.6" cy="351.5" r="1.75"/>
<circle cx="92.2" cy="349.9" r="1.75"/>
<circle cx="97.1" cy="356.9" r="1.75"/>
<circle cx="102.3" cy="354.6" r="1.75"/>
<circle cx="107.4" cy="356.9" r="1.75"/>
<circle cx="112.4" cy="358.5" r="1.75"/>
<circle cx="117.0" cy="358.5" r="1.75"/>
<circle cx="121.7" cy="361.6" r="1.75"/>
<circle cx="126.9" cy="362.7" r="1.75"/>
<circle cx="57.8" cy="401.3" r="1.75"/>
<circle cx="63.0" cy="403.7" r="1.75"/>
<circle cx="67.9" cy="380.3" r="1.75"/>
<circle cx="73.1" cy="397.8" r="1.75"/>
<circle cx="77.7" cy="400.2" r="1.75"/>
<circle cx="82.4" cy="394.3" r="1.75"/>
<circle cx="87.6" cy="389.6" r="1.75"/>
<circle cx="92.2" cy="391.3" r="1.75"/>
<circle cx="97.1" cy="386.1" r="1.75"/>
<circle cx="102.3" cy="387.3" r="1.75"/>
<circle cx="107.4" cy="386.6" r="1.75"/>
<circle cx="112.4" cy="386.6" r="1.75"/>
<circle cx="117.0" cy="386.1" r="1.75"/>
<circle cx="121.7" cy="385.0" r="1.75"/>
<circle cx="126.9" cy="384.3" r="1.75"/>
<circle cx="131.9" cy="362.7" r="1.75"/>
<circle cx="136.9" cy="363.3" r="1.75"/>
<circle cx="141.8" cy="361.4" r="1.75"/>
<circle cx="146.8" cy="358.1" r="1.75"/>
<circle cx="151.7" cy="357.3" r="1.75"/>
<circle cx="156.7" cy="355.1" r="1.75"/>
<circle cx="161.7" cy="353.6" r="1.75"/>
<circle cx="166.6" cy="352.0" r="1.75"/>
<circle cx="171.6" cy="349.5" r="1.75"/>
<circle cx="176.5" cy="351.1" r="1.75"/>
<circle cx="181.5" cy="355.8" r="1.75"/>
<circle cx="186.5" cy="356.7" r="1.75"/>
<circle cx="191.4" cy="359.7" r="1.75"/>
<circle cx="196.4" cy="359.1" r="1.75"/>
<circle cx="201.3" cy="362.3" r="1.75"/>
<circle cx="206.3" cy="364.6" r="1.75"/>
<circle cx="211.3" cy="364.9" r="1.75"/>
<circle cx="216.2" cy="370.0" r="1.75"/>
<circle cx="221.2" cy="371.4" r="1.75"/>
<circle cx="226.1" cy="370.0" r="1.75"/>
<circle cx="231.1" cy="370.8" r="1.75"/>
<circle cx="236.1" cy="372.4" r="1.75"/>
<circle cx="241.0" cy="373.1" r="1.75"/>
<circle cx="246.0" cy="369.8" r="1.75"/>
<circle cx="250.9" cy="367.5" r="1.75"/>
<circle cx="255.9" cy="365.9" r="1.75"/>
<circle cx="260.9" cy="362.9" r="1.75"/>
<circle cx="265.8" cy="362.6" r="1.75"/>
<circle cx="270.8" cy="363.0" r="1.75"/>
<circle cx="275.7" cy="363.5" r="1.75"/>
<circle cx="280.7" cy="363.3" r="1.75"/>
<circle cx="285.7" cy="364.8" r="1.75"/>
<circle cx="290.6" cy="366.5" r="1.75"/>
<circle cx="131.9" cy="387.7" r="1.75"/>
<circle cx="136.9" cy="389.8" r="1.75"/>
<circle cx="141.8" cy="389.1" r="1.75"/>
<circle cx="146.8" cy="392.7" r="1.75"/>
<circle cx="151.7" cy="398.7" r="1.75"/>
<circle cx="156.7" cy="400.9" r="1.75"/>
<circle cx="161.7" cy="402.7" r="1.75"/>
<circle cx="166.6" cy="402.9" r="1.75"/>
<circle cx="171.6" cy="404.8" r="1.75"/>
<circle cx="176.5" cy="404.5" r="1.75"/>
<circle cx="181.5" cy="403.2" r="1.75"/>
<circle cx="186.5" cy="400.3" r="1.75"/>
<circle cx="191.4" cy="399.7" r="1.75"/>
<circle cx="196.4" cy="398.2" r="1.75"/>
<circle cx="201.3" cy="398.3" r="1.75"/>
<circle cx="206.3" cy="398.3" r="1.75"/>
<circle cx="211.3" cy="397.2" r="1.75"/>
<circle cx="216.2" cy="395.3" r="1.75"/>
<circle cx="221.2" cy="394.9" r="1.75"/>
<circle cx="226.1" cy="394.6" r="1.75"/>
<circle cx="231.1" cy="394.5" r="1.75"/>
<circle cx="236.1" cy="395.5" r="1.75"/>
<circle cx="241.0" cy="398.1" r="1.75"/>
<circle cx="246.0" cy="400.1" r="1.75"/>
<circle cx="250.9" cy="403.1" r="1.75"/>
<circle cx="255.9" cy="407.2" r="1.75"/>
<circle cx="260.9" cy="408.5" r="1.75"/>
<circle cx="265.8" cy="409.8" r="1.75"/>
<circle cx="270.8" cy="409.9" r="1.75"/>
<circle cx="275.7" cy="409.6" r="1.75"/>
<circle cx="280.7" cy="411.0" r="1.75"/>
<circle cx="285.7" cy="410.8" r="1.75"/>
<circle cx="290.6" cy="413.3" r="1.75"/>
</g></svg>
<rect x="53.50" y="281.00" width="240.00" height="194.80" fill="none" stroke="#000" stroke-width="0.8"/>
<g stroke="#000" stroke-width="0.8">
<line x1="77.50" y1="475.80" x2="77.50" y2="478.90"/>
<line x1="109.42" y1="475.80" x2="109.42" y2="478.90"/>
<line x1="141.33" y1="475.80" x2="141.33" y2="478.90"/>
<line x1="173.25" y1="475.80" x2="173.25" y2="478.90"/>
<line x1="205.17" y1="475.80" x2="205.17" y2="478.90"/>
<line x1="237.08" y1="475.80" x2="237.08" y2="478.90"/>
<line x1="269.00" y1="475.80" x2="269.00" y2="478.90"/>
<line x1="50.40" y1="297.00" x2="53.50" y2="297.00"/>
<line x1="50.40" y1="335.75" x2="53.50" y2="335.75"/>
<line x1="50.40" y1="374.50" x2="53.50" y2="374.50"/>
<line x1="50.40" y1="413.25" x2="53.50" y2="413.25"/>
<line x1="50.40" y1="452.00" x2="53.50" y2="452.00"/>
</g>
<g font-size="8.80">
<text x="77.50" y="489.80" text-anchor="middle">−15</text>
<text x="109.42" y="489.80" text-anchor="middle">−10</text>
<text x="141.33" y="489.80" text-anchor="middle">−5</text>
<text x="173.25" y="489.80" text-anchor="middle">0</text>
<text x="205.17" y="489.80" text-anchor="middle">5</text>
<text x="237.08" y="489.80" text-anchor="middle">10</text>
<text x="269.00" y="489.80" text-anchor="middle">15</text>
<text x="47.40" y="300.70" text-anchor="end">400</text>
<text x="47.40" y="339.45" text-anchor="end">300</text>
<text x="47.40" y="378.20" text-anchor="end">200</text>
<text x="47.40" y="416.95" text-anchor="end">100</text>
<text x="47.40" y="455.70" text-anchor="end">0</text>
</g>
<g filter="url(#hotcb)"><rect x="308.20" y="281.00" width="9.90" height="194.80" fill="url(#cbg)"/></g>
<rect x="308.20" y="281.00" width="9.90" height="194.80" fill="none" stroke="#000" stroke-width="0.8"/>
<g stroke="#000" stroke-width="0.8">
<line x1="318.10" y1="306.90" x2="321.20" y2="306.90"/>
<line x1="318.10" y1="333.32" x2="321.20" y2="333.32"/>
<line x1="318.10" y1="359.73" x2="321.20" y2="359.73"/>
<line x1="318.10" y1="386.15" x2="321.20" y2="386.15"/>
<line x1="318.10" y1="412.57" x2="321.20" y2="412.57"/>
<line x1="318.10" y1="438.98" x2="321.20" y2="438.98"/>
<line x1="318.10" y1="465.40" x2="321.20" y2="465.40"/>
</g>
<g font-size="8.80">
<text x="324.60" y="310.50">175</text>
<text x="324.60" y="336.92">150</text>
<text x="324.60" y="363.33">125</text>
<text x="324.60" y="389.75">100</text>
<text x="324.60" y="416.17">75</text>
<text x="324.60" y="442.58">50</text>
<text x="324.60" y="469.00">25</text>
</g>
<text transform="translate(177.30 266.30) scale(1 1)" font-size="21.30" text-anchor="middle">(b)</text>
<text transform="translate(12.90 354.70) rotate(-90) scale(1 1.06)" font-size="12.60" text-anchor="middle">y (mm)</text>
<g filter="url(#hotc)">
<g filter="url(#nzc)">
<rect x="49.60" y="517.50" width="248.50" height="203.50" fill="#000"/>
<rect x="49.60" y="517.50" width="248.50" height="203.50" fill="#fff" fill-opacity="0.050"/>
<path d="M53.9 560.0 L120.0 572.0 L200.0 578.0 L293.1 582.0 L293.1 672.0 L200.0 668.0 L120.0 664.0 L53.9 662.0Z" fill="#fff" fill-opacity="0.070" filter="url(#bl6)"/>
<path d="M53.9 587.3 L76.4 593.5 L88.1 595.9 L99.8 597.4 L123.2 597.9 L158.3 598.0 L173.0 598.6 L190.5 601.0 L208.1 603.9 L225.6 605.6 L243.2 607.4 L260.7 608.4 L278.3 609.1 L293.1 608.4 L293.1 646.0 L278.3 643.5 L260.7 641.8 L243.2 640.7 L225.6 640.0 L208.1 639.3 L190.5 639.2 L173.0 640.2 L158.3 639.6 L140.7 637.2 L132.5 635.8 L118.5 633.0 L99.8 631.8 L81.0 632.6 L67.0 635.4 L53.9 638.0Z" fill="#fff" fill-opacity="0.260" filter="url(#bl2_0)"/>
<ellipse cx="252.0" cy="596.0" rx="26.0" ry="8.0" fill="url(#g)" fill-opacity="0.200"/>
<ellipse cx="120.0" cy="588.0" rx="30.0" ry="6.0" fill="url(#g)" fill-opacity="0.080"/>
<ellipse cx="200.0" cy="652.0" rx="60.0" ry="8.0" fill="url(#g)" fill-opacity="0.080"/>
<path d="M66.0 614.0 L76.0 603.0 L100.0 601.5 L150.0 602.5 L190.0 604.5 L225.0 608.5 L258.0 611.0 L272.0 615.0 L282.0 624.0 L272.0 634.0 L258.0 638.0 L225.0 637.5 L190.0 636.5 L150.0 636.0 L120.0 630.5 L100.0 629.5 L76.0 627.0Z" fill="#fff" fill-opacity="0.170" filter="url(#bl3_5)"/>
<ellipse cx="56.0" cy="612.0" rx="20.0" ry="30.0" fill="url(#k)" fill-opacity="0.500"/>
<ellipse cx="290.0" cy="627.0" rx="16.0" ry="26.0" fill="url(#k)" fill-opacity="0.350"/>
<ellipse cx="87.0" cy="614.0" rx="11.0" ry="14.0" fill="url(#g)" fill-opacity="0.220"/>
<ellipse cx="83.4" cy="603.5" rx="3.5" ry="4.0" fill="url(#g)" fill-opacity="0.350"/>
<ellipse cx="82.0" cy="625.0" rx="3.5" ry="4.5" fill="url(#g)" fill-opacity="0.350"/>
<ellipse cx="94.5" cy="601.5" rx="3.5" ry="3.5" fill="url(#g)" fill-opacity="0.300"/>
<ellipse cx="91.0" cy="614.0" rx="4.0" ry="6.0" fill="url(#g)" fill-opacity="0.200"/>
<ellipse cx="86.0" cy="626.0" rx="4.0" ry="3.0" fill="url(#g)" fill-opacity="0.250"/>
<ellipse cx="249.0" cy="621.5" rx="14.0" ry="14.0" fill="url(#g)" fill-opacity="0.500"/>
<ellipse cx="249.0" cy="615.0" rx="3.5" ry="4.0" fill="url(#g)" fill-opacity="0.200"/>
<ellipse cx="254.0" cy="627.0" rx="3.5" ry="4.0" fill="url(#g)" fill-opacity="0.200"/>
<ellipse cx="256.0" cy="634.0" rx="3.0" ry="3.5" fill="url(#g)" fill-opacity="0.180"/>
<path d="M96.3 614.5 L98.6 607.4 L118.0 607.0 L121.0 604.9 L150.0 604.0 L188.0 605.6 L199.0 609.0 L224.0 610.4 L231.5 612.6 L238.0 614.0 L241.5 620.0 L241.0 629.0 L237.5 634.3 L225.0 635.0 L189.0 635.0 L179.0 632.8 L150.0 632.5 L145.0 629.5 L124.0 629.2 L115.0 624.6 L105.0 622.5 L98.6 622.2Z" fill="#fff" fill-opacity="0.400" filter="url(#bl1_0)"/>
</g>
<g filter="url(#ragc)">
<path d="M98.5 612.0 L100.0 609.2 L119.0 608.9 L120.5 610.2 L122.5 606.7 L144.5 606.4 L147.0 608.0 L149.5 605.8 L172.0 606.2 L188.0 607.3 L198.0 610.6 L210.0 611.5 L212.0 612.7 L214.0 611.7 L223.0 612.2 L230.0 614.2 L236.0 615.3 L238.5 619.0 L238.5 628.0 L236.0 632.5 L225.0 633.3 L214.0 633.3 L212.0 631.8 L210.0 633.3 L193.0 633.3 L190.5 631.5 L188.0 633.0 L180.0 631.2 L170.0 631.1 L168.0 629.6 L166.0 631.1 L152.0 631.1 L148.5 628.5 L146.0 627.8 L125.0 627.4 L115.5 622.9 L106.0 620.8 L100.0 620.6 L98.5 618.0Z" fill="#f2f2f2" fill-opacity="1.000" filter="url(#bl0_8)"/>
</g></g>
<svg x="54.60" y="522.50" width="238.50" height="193.50" viewBox="54.60 522.50 238.50 193.50">
<path d="M53.9 587.3 L76.4 593.5 L88.1 595.9 L99.8 597.4 L123.2 597.9 L158.3 598.0 L173.0 598.6 L190.5 601.0 L208.1 603.9 L225.6 605.6 L243.2 607.4 L260.7 608.4 L278.3 609.1 L293.1 608.4" fill="none" stroke="#fff" stroke-width="1.6" stroke-dasharray="5.9 2.6"/>
<path d="M53.9 638.0 L67.0 635.4 L81.0 632.6 L99.8 631.8 L118.5 633.0 L132.5 635.8 L140.7 637.2 L158.3 639.6 L173.0 640.2 L190.5 639.2 L208.1 639.3 L225.6 640.0 L243.2 640.7 L260.7 641.8 L278.3 643.5 L293.1 646.0" fill="none" stroke="#fff" stroke-width="1.6" stroke-dasharray="5.9 2.6"/>
<g fill="#fff">
<circle cx="59.5" cy="588.2" r="1.6"/>
<circle cx="67.7" cy="591.2" r="1.6"/>
<circle cx="75.9" cy="593.1" r="1.6"/>
<circle cx="84.1" cy="595.3" r="1.6"/>
<circle cx="92.3" cy="596.7" r="1.6"/>
<circle cx="100.5" cy="596.4" r="1.6"/>
<circle cx="108.7" cy="596.4" r="1.6"/>
<circle cx="116.9" cy="598.6" r="1.6"/>
<circle cx="125.1" cy="597.3" r="1.6"/>
<circle cx="133.3" cy="597.3" r="1.6"/>
<circle cx="141.5" cy="599.1" r="1.6"/>
<circle cx="149.7" cy="597.9" r="1.6"/>
<circle cx="157.9" cy="598.8" r="1.6"/>
<circle cx="166.1" cy="598.3" r="1.6"/>
<circle cx="174.3" cy="599.1" r="1.6"/>
<circle cx="182.5" cy="599.1" r="1.6"/>
<circle cx="190.7" cy="601.4" r="1.6"/>
<circle cx="198.9" cy="603.3" r="1.6"/>
<circle cx="207.1" cy="603.8" r="1.6"/>
<circle cx="215.3" cy="605.2" r="1.6"/>
<circle cx="223.5" cy="605.8" r="1.6"/>
<circle cx="231.7" cy="605.2" r="1.6"/>
<circle cx="239.9" cy="607.7" r="1.6"/>
<circle cx="248.1" cy="607.9" r="1.6"/>
<circle cx="256.3" cy="607.7" r="1.6"/>
<circle cx="264.5" cy="607.4" r="1.6"/>
<circle cx="272.7" cy="609.8" r="1.6"/>
<circle cx="280.9" cy="608.9" r="1.6"/>
<circle cx="289.1" cy="609.1" r="1.6"/>
<circle cx="59.5" cy="636.3" r="1.6"/>
<circle cx="67.7" cy="634.3" r="1.6"/>
<circle cx="75.9" cy="633.4" r="1.6"/>
<circle cx="84.1" cy="631.6" r="1.6"/>
<circle cx="92.3" cy="631.1" r="1.6"/>
<circle cx="100.5" cy="631.6" r="1.6"/>
<circle cx="108.7" cy="633.4" r="1.6"/>
<circle cx="116.9" cy="633.6" r="1.6"/>
<circle cx="125.1" cy="635.0" r="1.6"/>
<circle cx="133.3" cy="635.3" r="1.6"/>
<circle cx="141.5" cy="637.4" r="1.6"/>
<circle cx="149.7" cy="637.9" r="1.6"/>
<circle cx="157.9" cy="638.8" r="1.6"/>
<circle cx="166.1" cy="639.0" r="1.6"/>
<circle cx="174.3" cy="639.4" r="1.6"/>
<circle cx="182.5" cy="640.7" r="1.6"/>
<circle cx="190.7" cy="640.0" r="1.6"/>
<circle cx="198.9" cy="640.0" r="1.6"/>
<circle cx="207.1" cy="640.0" r="1.6"/>
<circle cx="215.3" cy="638.9" r="1.6"/>
<circle cx="223.5" cy="639.5" r="1.6"/>
<circle cx="231.7" cy="640.5" r="1.6"/>
<circle cx="239.9" cy="641.1" r="1.6"/>
<circle cx="248.1" cy="641.9" r="1.6"/>
<circle cx="256.3" cy="642.4" r="1.6"/>
<circle cx="264.5" cy="641.2" r="1.6"/>
<circle cx="272.7" cy="643.2" r="1.6"/>
<circle cx="280.9" cy="644.4" r="1.6"/>
<circle cx="289.1" cy="645.3" r="1.6"/>
</g></svg>
<rect x="54.60" y="522.50" width="238.50" height="193.50" fill="none" stroke="#000" stroke-width="0.8"/>
<g stroke="#000" stroke-width="0.8">
<line x1="78.50" y1="716.00" x2="78.50" y2="719.10"/>
<line x1="110.17" y1="716.00" x2="110.17" y2="719.10"/>
<line x1="141.83" y1="716.00" x2="141.83" y2="719.10"/>
<line x1="173.50" y1="716.00" x2="173.50" y2="719.10"/>
<line x1="205.17" y1="716.00" x2="205.17" y2="719.10"/>
<line x1="236.83" y1="716.00" x2="236.83" y2="719.10"/>
<line x1="268.50" y1="716.00" x2="268.50" y2="719.10"/>
<line x1="51.50" y1="531.20" x2="54.60" y2="531.20"/>
<line x1="51.50" y1="569.93" x2="54.60" y2="569.93"/>
<line x1="51.50" y1="608.65" x2="54.60" y2="608.65"/>
<line x1="51.50" y1="647.38" x2="54.60" y2="647.38"/>
<line x1="51.50" y1="686.10" x2="54.60" y2="686.10"/>
</g>
<g font-size="8.80">
<text x="78.50" y="730.00" text-anchor="middle">−15</text>
<text x="110.17" y="730.00" text-anchor="middle">−10</text>
<text x="141.83" y="730.00" text-anchor="middle">−5</text>
<text x="173.50" y="730.00" text-anchor="middle">0</text>
<text x="205.17" y="730.00" text-anchor="middle">5</text>
<text x="236.83" y="730.00" text-anchor="middle">10</text>
<text x="268.50" y="730.00" text-anchor="middle">15</text>
<text x="48.50" y="534.90" text-anchor="end">400</text>
<text x="48.50" y="573.63" text-anchor="end">300</text>
<text x="48.50" y="612.35" text-anchor="end">200</text>
<text x="48.50" y="651.08" text-anchor="end">100</text>
<text x="48.50" y="689.80" text-anchor="end">0</text>
</g>
<g filter="url(#hotcc)"><rect x="307.70" y="522.50" width="9.90" height="193.50" fill="url(#cbg)"/></g>
<rect x="307.70" y="522.50" width="9.90" height="193.50" fill="none" stroke="#000" stroke-width="0.8"/>
<g stroke="#000" stroke-width="0.8">
<line x1="317.60" y1="523.00" x2="320.70" y2="523.00"/>
<line x1="317.60" y1="549.10" x2="320.70" y2="549.10"/>
<line x1="317.60" y1="575.20" x2="320.70" y2="575.20"/>
<line x1="317.60" y1="601.30" x2="320.70" y2="601.30"/>
<line x1="317.60" y1="627.40" x2="320.70" y2="627.40"/>
<line x1="317.60" y1="653.50" x2="320.70" y2="653.50"/>
<line x1="317.60" y1="679.60" x2="320.70" y2="679.60"/>
<line x1="317.60" y1="705.70" x2="320.70" y2="705.70"/>
</g>
<g font-size="8.80">
<text x="324.10" y="526.60">200</text>
<text x="324.10" y="552.70">175</text>
<text x="324.10" y="578.80">150</text>
<text x="324.10" y="604.90">125</text>
<text x="324.10" y="631.00">100</text>
<text x="324.10" y="657.10">75</text>
<text x="324.10" y="683.20">50</text>
<text x="324.10" y="709.30">25</text>
</g>
<text transform="translate(177.30 512.20) scale(1 1)" font-size="21.30" text-anchor="middle">(c)</text>
<text transform="translate(12.90 611.20) rotate(-90) scale(1 1.06)" font-size="12.60" text-anchor="middle">y (mm)</text>
<text transform="translate(176.00 743.20) scale(1 0.95)" font-size="14.50" text-anchor="middle">z (mm)</text>
</svg></body></html>
